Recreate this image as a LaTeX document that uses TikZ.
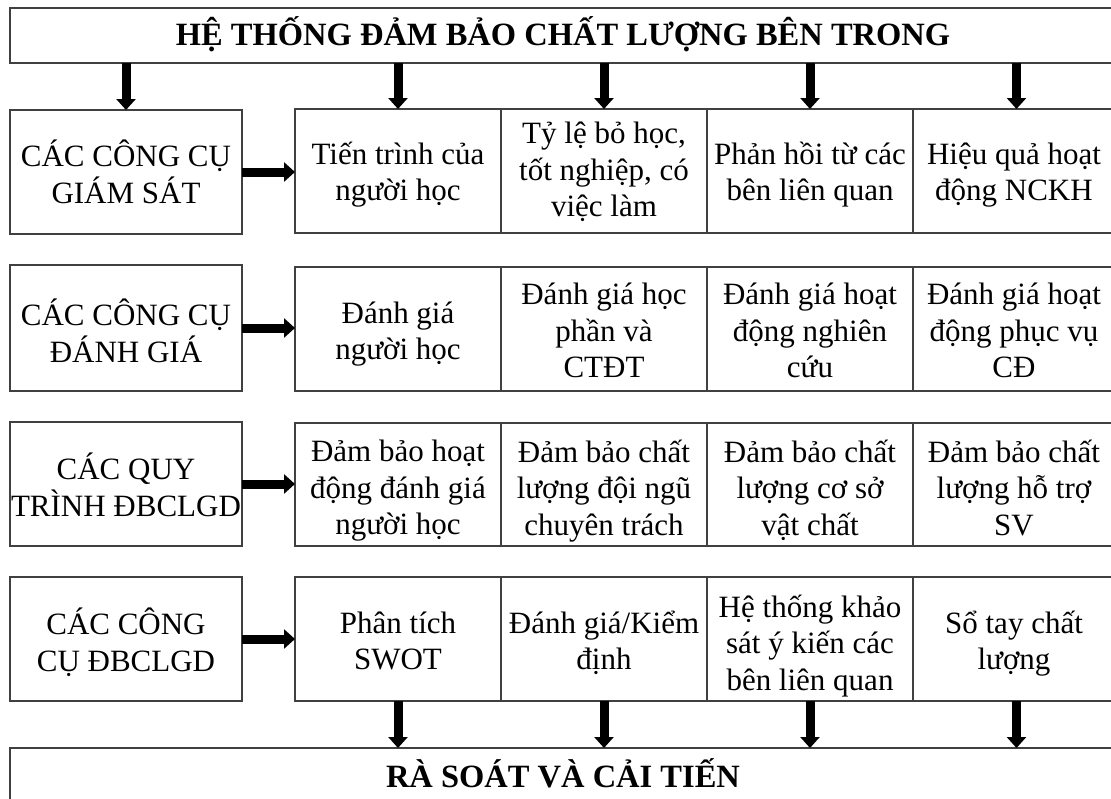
\documentclass[tikz,border=0pt]{standalone}
\usepackage{fontspec}
\setmainfont{Liberation Serif}
\usetikzlibrary{arrows.meta}
\definecolor{boxgray}{HTML}{404040}
\tikzset{
  box/.style={draw=boxgray, line width=1.3pt, inner sep=0pt, outer sep=0pt, anchor=north west},
  txt/.style={align=center, inner sep=0pt, font=\fontsize{31}{36.5}\selectfont,
    execute at begin node={\rule{0pt}{27pt}}, execute at end node={\rule[-7pt]{0pt}{7pt}}},
  headtxt/.style={inner sep=0pt, anchor=base, font=\fontsize{32.5}{38}\selectfont\bfseries},
  bigarrow/.style={black, line width=9pt, -{Triangle[width=19pt,length=11pt]}}
}
\begin{document}
\begin{tikzpicture}[x=1pt,y=-1pt]
\clip (0,0) rectangle (1111,798);
\fill[white] (0,0) rectangle (1111,798);
% top and bottom boxes
\node[box, minimum width=1107pt, minimum height=55pt] (top) at (10,8) {};
\node[headtxt] (toptxt) at (563,45) {HỆ THỐNG ĐẢM BẢO CHẤT LƯỢNG BÊN TRONG};
\node[box, minimum width=1107pt, minimum height=80pt] (bot) at (10,748) {};
\node[headtxt] (bottxt) at (563,787) {RÀ SOÁT VÀ CẢI TIẾN};
% left boxes
\node[box, minimum width=232pt, minimum height=124pt] (L1) at (10,110) {};
\node[box, minimum width=232pt, minimum height=126pt] (L2) at (10,265) {};
\node[box, minimum width=232pt, minimum height=124pt] (L3) at (10,422) {};
\node[box, minimum width=232pt, minimum height=124pt] (L4) at (10,577) {};
% row 1 cells
\node[box, minimum width=206pt, minimum height=124pt] (C11) at (295,109) {};
\node[box, minimum width=206pt, minimum height=124pt] (C12) at (501,109) {};
\node[box, minimum width=206pt, minimum height=124pt] (C13) at (707,109) {};
\node[box, minimum width=207pt, minimum height=124pt] (C14) at (913,109) {};
% row 2 cells
\node[box, minimum width=206pt, minimum height=124pt] (C21) at (295,267) {};
\node[box, minimum width=206pt, minimum height=124pt] (C22) at (501,267) {};
\node[box, minimum width=206pt, minimum height=124pt] (C23) at (707,267) {};
\node[box, minimum width=207pt, minimum height=124pt] (C24) at (913,267) {};
% row 3 cells
\node[box, minimum width=206pt, minimum height=123pt] (C31) at (295,423) {};
\node[box, minimum width=206pt, minimum height=123pt] (C32) at (501,423) {};
\node[box, minimum width=206pt, minimum height=123pt] (C33) at (707,423) {};
\node[box, minimum width=207pt, minimum height=123pt] (C34) at (913,423) {};
% row 4 cells
\node[box, minimum width=206pt, minimum height=124pt] (C41) at (295,577) {};
\node[box, minimum width=206pt, minimum height=124pt] (C42) at (501,577) {};
\node[box, minimum width=206pt, minimum height=124pt] (C43) at (707,577) {};
\node[box, minimum width=207pt, minimum height=124pt] (C44) at (913,577) {};
% texts row 1
\node[txt] (tL1) at (126,175) {CÁC CÔNG CỤ\\GIÁM SÁT};
\node[txt] (t11) at (398,175) {Tiến trình của\\người học};
\node[txt] (t12) at (604,173) {Tỷ lệ bỏ học,\\tốt nghiệp, có\\việc làm};
\node[txt] (t13) at (810,175) {Phản hồi từ các\\bên liên quan};
\node[txt] (t14) at (1014,175) {Hiệu quả hoạt\\động NCKH};
% texts row 2
\node[txt] (tL2) at (126,334) {CÁC CÔNG CỤ\\ĐÁNH GIÁ};
\node[txt] (t21) at (398,334) {Đánh giá\\người học};
\node[txt] (t22) at (604,334) {Đánh giá học\\phần và\\CTĐT};
\node[txt] (t23) at (810,334) {Đánh giá hoạt\\động nghiên\\cứu};
\node[txt] (t24) at (1014,334) {Đánh giá hoạt\\động phục vụ\\CĐ};
% texts row 3
\node[txt] (tL3) at (126,488) {CÁC QUY\\TRÌNH ĐBCLGD};
\node[txt] (t31) at (398,491) {Đảm bảo hoạt\\động đánh giá\\người học};
\node[txt] (t32) at (604,491) {Đảm bảo chất\\lượng đội ngũ\\chuyên trách};
\node[txt] (t33) at (810,491) {Đảm bảo chất\\lượng cơ sở\\vật chất};
\node[txt] (t34) at (1014,491) {Đảm bảo chất\\lượng hỗ trợ\\SV};
% texts row 4
\node[txt] (tL4) at (126,643) {CÁC CÔNG\\CỤ ĐBCLGD};
\node[txt] (t41) at (398,644) {Phân tích\\SWOT};
\node[txt] (t42) at (604,644) {Đánh giá/Kiểm\\định};
\node[txt] (t43) at (810,646) {Hệ thống khảo\\sát ý kiến các\\bên liên quan};
\node[txt] (t44) at (1014,644) {Sổ tay chất\\lượng};
% arrows from top
\draw[bigarrow] (top.south -| L1.north) -- (L1.north);
\draw[bigarrow] (top.south -| C11.north) -- (C11.north);
\draw[bigarrow] (top.south -| C12.north) -- (C12.north);
\draw[bigarrow] (top.south -| C13.north) -- (C13.north);
\draw[bigarrow] (top.south -| C14.north) -- (C14.north);
% horizontal arrows
\draw[bigarrow] (L1.east) -- (L1.east -| C11.west);
\draw[bigarrow] (L2.east) -- (L2.east -| C21.west);
\draw[bigarrow] (L3.east) -- (L3.east -| C31.west);
\draw[bigarrow] (L4.east) -- (L4.east -| C41.west);
% arrows to bottom
\draw[bigarrow] (C41.south) -- (bot.north -| C41.south);
\draw[bigarrow] (C42.south) -- (bot.north -| C42.south);
\draw[bigarrow] (C43.south) -- (bot.north -| C43.south);
\draw[bigarrow] (C44.south) -- (bot.north -| C44.south);
\end{tikzpicture}
\end{document}
